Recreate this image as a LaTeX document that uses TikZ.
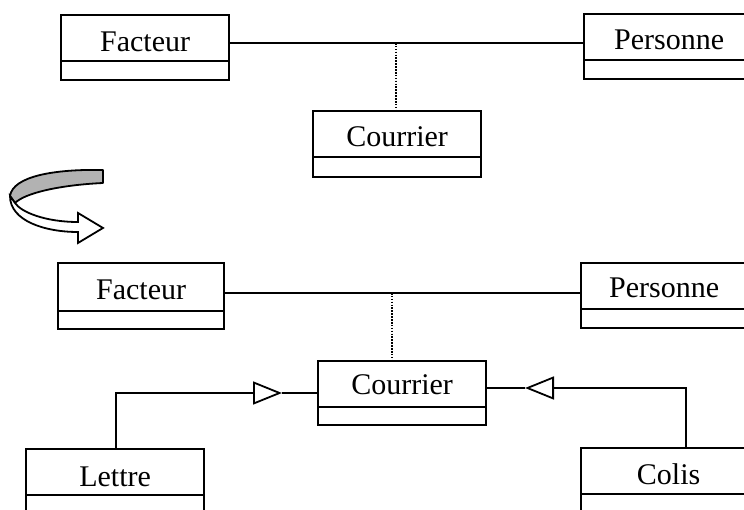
\documentclass[tikz,border=0pt]{standalone}
\usepackage{fontspec}
\setmainfont{Liberation Serif}
\usetikzlibrary{arrows.meta}

\tikzset{
  classbox/.style={draw, line width=2.2pt, rectangle, inner sep=0pt, anchor=north west},
  divider/.style={line width=1.4pt},
  classname/.style={anchor=base, inner sep=0pt, font=\fontsize{30}{36}\selectfont},
  assoc/.style={line width=1.8pt},
  linkdots/.style={line width=2.3pt, dash pattern=on 1.6pt off 1.3pt},
  inherit/.style={line width=1.8pt, -{Triangle[open, length=29pt, width=23pt, line width=1.8pt]}},
}

% class box: name, top-left corner, width, height, divider depth, baseline depth, title
\newcommand\umlclass[8]{%
  \node[classbox, minimum width=#4, minimum height=#5] (#1) at (#2,#3) {};
  \draw[divider] ([yshift=-#6]#1.north west) -- ([yshift=-#6]#1.north east);
  \node[classname] (#1-name) at ([yshift=-#7]#1.north) {#8};
}

\begin{document}
\begin{tikzpicture}[x=1pt, y=-1pt]
  \path[use as bounding box] (0,0) rectangle (744,510);
  \clip (0,0) rectangle (744,510);

  % ---- first association: Facteur -- Personne, class Courrier ----
  \umlclass{f1}{60}{14}{168pt}{65pt}{47pt}{38pt}{Facteur}
  \umlclass{p1}{583}{13}{170pt}{65pt}{47pt}{37pt}{Personne}
  \umlclass{c1}{312}{110}{168pt}{66pt}{47pt}{37pt}{Courrier}

  \coordinate (a1) at (396,43);
  \draw[assoc] (f1.east |- a1) -- (p1.west |- a1);
  \draw[linkdots] (a1) -- (a1 |- c1.north);

  % ---- twisted ribbon arrow ----
  \fill[gray!60, draw=black, line width=1.8pt, line join=round]
    (103,170) .. controls (55,169) and (13,176) .. (10,196)
    -- (15,203) .. controls (25,193) and (60,185) .. (103,183) -- cycle;
  \filldraw[fill=white, draw=black, line width=1.8pt, line join=miter]
    (10,196) .. controls (10,221) and (45,232) .. (78,232)
    -- (78,243) -- (103,228) -- (78,213) -- (78,222)
    .. controls (45,222) and (21,212) .. (15,203) -- cycle;

  % ---- second association with specialised Courrier ----
  \umlclass{f2}{57}{262}{166pt}{66pt}{49pt}{38pt}{Facteur}
  \umlclass{p2}{580}{262}{166pt}{65pt}{47pt}{36pt}{Personne}
  \umlclass{c2}{317}{360}{168pt}{64pt}{47pt}{35pt}{Courrier}
  \umlclass{l}{25}{448}{178pt}{66pt}{47pt}{38pt}{Lettre}
  \umlclass{co}{580}{447}{175pt}{66pt}{47pt}{37pt}{Colis}

  \coordinate (a2) at (392,293);
  \draw[assoc] (f2.east |- a2) -- (p2.west |- a2);
  \draw[linkdots] (a2) -- (a2 |- c2.north);

  % generalisation Lettre -> Courrier
  \coordinate (lx) at (116,0);
  \coordinate (tipL) at (282,393);
  \draw[inherit] (l.north -| lx) |- (tipL);
  \draw[assoc] (tipL) -- (c2.west |- tipL);

  % generalisation Colis -> Courrier
  \coordinate (cx) at (686,0);
  \coordinate (tipR) at (525,388);
  \draw[inherit] (co.north -| cx) |- (tipR);
  \draw[assoc] (tipR) -- (c2.east |- tipR);
\end{tikzpicture}
\end{document}
